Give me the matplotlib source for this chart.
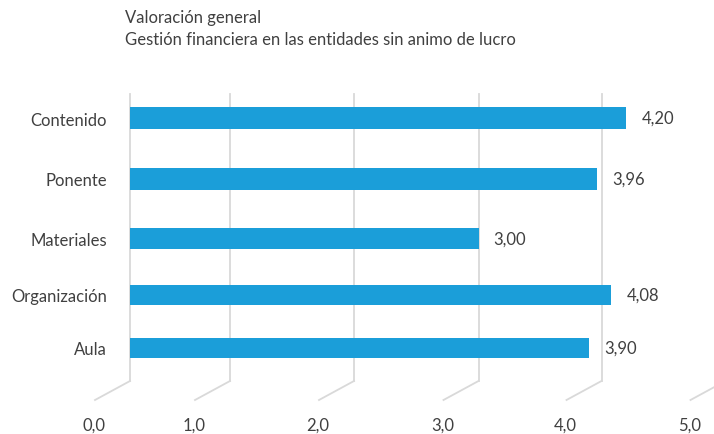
import matplotlib
matplotlib.use("Agg")
import matplotlib.pyplot as plt
import matplotlib.transforms as mtransforms
import numpy as np

categories = ["Contenido", "Ponente", "Materiales", "Organización", "Aula"]
values = [4.20, 3.96, 3.00, 4.08, 3.90]
xticks = [0, 1, 2, 3, 4, 5]
xtick_labels = ["0,0", "1,0", "2,0", "3,0", "4,0", "5,0"]
title_lines = ["Valoración general",
               "Gestión financiera en las entidades sin animo de lucro"]

TEXT = "#404040"
BAR = "#1b9ed9"
GRID = "#d9d9d9"
FS = 12
plt.rcParams['font.family'] = ['Lato', 'DejaVu Sans']

W, H = 714, 435
fig = plt.figure(figsize=(W / 100, H / 100), dpi=100)

# perspective-like spacing of the back wall (pixel distance of each tick from 0)
xp_ticks = np.array([0, 1, 2, 3, 4, 5], dtype=float)
xp_px = np.array([0, 100, 224, 348.5, 471.5, 595.5])
# perspective-like spacing of the category rows (pixels from axes top)
yp_idx = np.array([-1, 0, 1, 2, 3, 4, 5], dtype=float)
yp_px = np.array([-37, 24, 85, 145, 201, 254, 307], dtype=float)

left_px, top_px, bottom_px = 130, 95, 382
right_px = left_px + xp_px[-1]          # the wall reaches just past the canvas
ax = fig.add_axes([left_px / W, 1 - bottom_px / H,
                   (right_px - left_px) / W, (bottom_px - top_px) / H])

ax.set_xscale('function', functions=(lambda v: np.interp(v, xp_ticks, xp_px),
                                     lambda p: np.interp(p, xp_px, xp_ticks)))
ax.set_yscale('function', functions=(lambda v: np.interp(v, yp_idx, yp_px),
                                     lambda p: np.interp(p, yp_px, yp_idx)))

ypos = list(range(len(categories)))
bars = ax.barh(ypos, values, height=0.36, color=BAR, zorder=3)
ax.bar_label(bars, labels=[f"{v:.2f}".replace(".", ",") for v in values],
             padding=11, color=TEXT, fontsize=FS)

for s in ax.spines.values():
    s.set_visible(False)

ax.set_yticks(ypos)
ax.set_yticklabels(categories, color=TEXT, fontsize=FS)
ax.tick_params(axis='y', length=0, pad=16.5)
ax.set_xticks(xticks)
ax.set_xticklabels(xtick_labels, color=TEXT, fontsize=FS)
ax.tick_params(axis='x', length=0, pad=26)
off = mtransforms.ScaledTranslation(-36 / 100, 0, fig.dpi_scale_trans)
for lab in ax.get_xticklabels():
    lab.set_transform(lab.get_transform() + off)

ax.set_xlim(xticks[0], xticks[-1])
ax.set_ylim(float(np.interp(bottom_px - top_px, yp_px, yp_idx)),
            float(np.interp(0, yp_px, yp_idx)))

# back-wall gridlines and floor diagonals
diag = mtransforms.ScaledTranslation(-35 / 100, -19 / 100, fig.dpi_scale_trans)
trans = mtransforms.blended_transform_factory(ax.transData, ax.transAxes)
for t in xticks:
    ax.plot([t, t], [0, 1], transform=trans, color=GRID, lw=1.3,
            clip_on=False, zorder=1)
    x0, y0 = trans.transform((t, 0))
    x1, y1 = (trans + diag).transform((t, 0))
    ax.plot([x0, x1], [y0, y1], transform=None, color=GRID, lw=1.3,
            clip_on=False, zorder=1)

fig.text(125 / W, 1 - 18 / H, title_lines[0], color=TEXT, fontsize=FS,
         va='center', ha='left')
fig.text(125 / W, 1 - 40 / H, title_lines[1], color=TEXT, fontsize=FS,
         va='center', ha='left')

fig.savefig("out.png", dpi=100)
